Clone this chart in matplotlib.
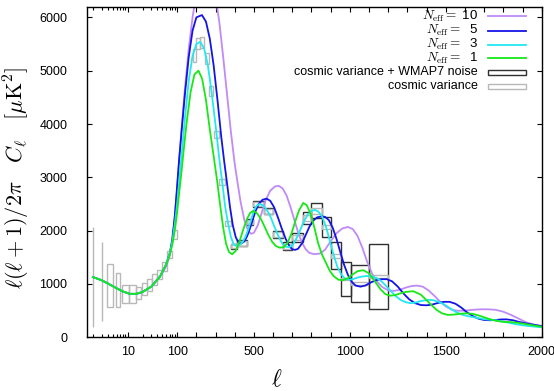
import numpy as np
import matplotlib
matplotlib.use("Agg")
import matplotlib.pyplot as plt
from matplotlib.patches import Rectangle
from matplotlib.lines import Line2D

plt.rcParams["font.family"] = ["Liberation Sans", "DejaVu Sans"]
plt.rcParams["mathtext.fontset"] = "cm"

# ---- model spectra, D_l = l(l+1)C_l/2pi in muK^2 ----
ell_n10 = [2, 3, 4, 6, 8, 11, 15, 20, 30, 45, 60, 71, 80, 90, 100, 110, 125, 140, 160, 180,
           200, 225, 250, 275, 300, 320, 340, 360, 380, 400, 413, 430, 450, 470, 485, 500, 520, 540, 560, 585,
           610, 630, 650, 670, 690, 710, 730, 750, 770, 790, 815, 844, 870, 900, 930, 960, 990, 1015, 1040, 1065,
           1090, 1115, 1140, 1170, 1200, 1230, 1260, 1290, 1320, 1350, 1380, 1410, 1440, 1470, 1500, 1530, 1560,
           1600, 1640, 1680, 1720, 1760, 1800, 1840, 1880, 1920, 1960, 2000]
cl_n10 = [1130, 1070, 1010, 920, 860, 815, 815, 850, 950, 1130, 1330, 1530, 1800, 2250, 2800, 3300, 4000, 4650, 5400, 6000,
          6450, 6800, 6900, 6750, 6400, 5900, 5250, 4550, 3850, 3250, 2940, 2550, 2200, 2000, 1940, 1960, 2100, 2330, 2560, 2750,
          2830, 2840, 2790, 2660, 2450, 2210, 1970, 1780, 1650, 1580, 1560, 1570, 1640, 1800, 1950, 2040, 2070, 2030, 1900, 1680,
          1420, 1200, 1050, 940, 880, 870, 890, 930, 960, 970, 950, 880, 780, 670, 580, 520, 497,
          500, 515, 525, 525, 515, 480, 420, 350, 280, 235, 200]

ell_n5 = [2, 3, 4, 6, 8, 11, 15, 20, 30, 45, 60, 71, 80, 90, 100, 110, 125, 140, 160, 180,
          200, 229, 250, 270, 290, 310, 330, 345, 358, 375, 390, 405, 420, 435, 450, 465, 480, 495, 510, 525,
          545, 566, 585, 605, 625, 645, 665, 685, 700, 715, 730, 750, 770, 790, 810, 830, 850, 870, 890, 910,
          930, 950, 970, 990, 1010, 1030, 1055, 1080, 1110, 1140, 1165, 1192, 1220, 1250, 1280, 1310, 1340, 1370, 1400, 1430,
          1460, 1490, 1520, 1550, 1580, 1610, 1640, 1670, 1700, 1730, 1760, 1790, 1817, 1850, 1880, 1920, 1960, 2000]
cl_n5 = [1130, 1070, 1010, 920, 860, 815, 815, 850, 950, 1140, 1370, 1580, 1850, 2300, 2850, 3330, 3950, 4550, 5250, 5750,
         6000, 6043, 5920, 5600, 5100, 4450, 3750, 3300, 2940, 2450, 2100, 1880, 1770, 1760, 1800, 1900, 2050, 2220, 2380, 2500,
         2580, 2600, 2560, 2440, 2250, 2040, 1850, 1710, 1650, 1640, 1660, 1760, 1920, 2080, 2190, 2250, 2265, 2260, 2200, 2060,
         1850, 1600, 1360, 1170, 1040, 970, 950, 970, 1030, 1075, 1090, 1090, 1050, 950, 820, 710, 640, 605, 600, 615,
         645, 665, 665, 630, 560, 470, 400, 350, 325, 320, 325, 335, 336, 320, 290, 260, 235, 211]

ell_n3 = [2, 3, 4, 6, 8, 11, 15, 20, 30, 45, 60, 71, 80, 90, 100, 110, 125, 140, 160, 180,
          200, 220, 240, 260, 280, 300, 320, 335, 350, 365, 380, 395, 410, 425, 440, 455, 470, 485, 500, 515,
          530, 545, 560, 575, 590, 605, 620, 635, 650, 665, 683, 700, 720, 740, 760, 780, 800, 818, 835, 855,
          875, 895, 915, 935, 955, 975, 995, 1015, 1040, 1065, 1090, 1115, 1140, 1165, 1190, 1215, 1240, 1265, 1290, 1315,
          1340, 1370, 1400, 1430, 1460, 1490, 1520, 1550, 1580, 1610, 1640, 1670, 1700, 1730, 1760, 1790, 1820, 1860, 1900, 1950,
          2000]
cl_n3 = [1130, 1070, 1010, 920, 860, 815, 815, 850, 950, 1140, 1370, 1575, 1800, 2140, 2500, 2900, 3500, 4100, 4800, 5280,
         5500, 5540, 5420, 5100, 4580, 3980, 3330, 2900, 2450, 2140, 1880, 1740, 1710, 1730, 1780, 1880, 2020, 2200, 2380, 2470,
         2500, 2480, 2420, 2340, 2230, 2090, 1960, 1840, 1750, 1700, 1690, 1720, 1840, 2000, 2170, 2300, 2370, 2390, 2360, 2270,
         2080, 1820, 1550, 1320, 1180, 1100, 1080, 1090, 1120, 1140, 1150, 1140, 1110, 1050, 960, 860, 770, 700, 660, 640,
         650, 680, 700, 700, 670, 620, 550, 480, 430, 400, 380, 360, 340, 330, 320, 300, 280, 250, 225, 205,
         187]

ell_n1 = [2, 3, 4, 6, 8, 11, 15, 20, 30, 45, 60, 71, 80, 90, 100, 110, 120, 135, 150, 170,
          190, 211, 230, 250, 270, 290, 308, 325, 340, 355, 370, 387, 405, 425, 445, 465, 480, 495, 515, 535,
          555, 575, 595, 615, 635, 655, 675, 695, 715, 735, 757, 775, 795, 815, 835, 855, 875, 895, 915, 940,
          965, 990, 1015, 1040, 1070, 1100, 1130, 1160, 1185, 1209, 1235, 1260, 1290, 1330, 1370, 1410, 1450, 1480, 1510, 1540,
          1570, 1605, 1640, 1680, 1720, 1760, 1800, 1840, 1880, 1930, 2000]
cl_n1 = [1130, 1070, 1010, 920, 860, 815, 815, 850, 950, 1140, 1370, 1550, 1740, 2020, 2350, 2700, 3020, 3550, 4050, 4600,
         4930, 5000, 4850, 4450, 3900, 3400, 2940, 2450, 2050, 1750, 1600, 1557, 1620, 1800, 2030, 2230, 2330, 2370, 2330, 2230,
         2080, 1920, 1790, 1710, 1680, 1690, 1770, 1940, 2170, 2380, 2520, 2480, 2320, 2060, 1760, 1550, 1400, 1250, 1150, 1080,
         1071, 1110, 1180, 1240, 1258, 1200, 1050, 900, 810, 780, 790, 820, 850, 865, 800, 660, 520, 450, 420, 425,
         440, 450, 440, 400, 350, 310, 290, 285, 270, 240, 198]

# ---- error boxes ----
# single multipoles at low l (drawn as vertical bars)
cv_line_ell = [2, 3]
cv_line_lo = [198, 310]
cv_line_hi = [2069, 1787]

# low-l bins: l range and D range (cosmic variance only)
low_bin_lo = [3.9, 5.9, 7.8, 10.7, 14.9, 19.7, 24.9, 31.4, 39.5, 50, 63, 79]
low_bin_hi = [5.0, 7.0, 10.7, 14.5, 18.8, 24.9, 31.4, 39.5, 50, 63, 79, 100]
low_box_lo = [572, 561, 636, 647, 710, 791, 871, 978, 1090, 1250, 1480, 1850]
low_box_hi = [1370, 1207, 978, 978, 935, 1009, 1084, 1183, 1260, 1410, 1620, 2010]

# linear-l bins: centre value, cosmic-variance and cv+WMAP7-noise half heights
bin_lo = [183, 198, 218, 243, 267, 291, 320, 348, 380, 410, 462, 496, 552, 600, 653, 700, 757, 800, 853, 900, 952, 1004, 1100]
bin_hi = [198, 218, 241, 266, 289, 320, 347, 380, 410, 462, 496, 552, 600, 653, 700, 757, 800, 853, 900, 952, 1004, 1100, 1200]
bin_mid = [5280, 5510, 5530, 5230, 4620, 3810, 2920, 2135, 1707, 1762, 2165, 2495, 2364, 1927, 1710, 1870, 2240, 2370, 2067, 1530, 1092, 1008, 1140]
cv_half = [120, 110, 100, 110, 95, 65, 55, 55, 37, 43, 35, 40, 46, 47, 47, 45, 50, 50, 45, 35, 25, 20, 20]
tot_half = [120, 110, 100, 110, 95, 65, 55, 55, 48, 55, 50, 55, 60, 65, 78, 84, 118, 140, 187, 258, 320, 343, 617]

labels = [r"$N_{\rm eff}=$ 10", r"$N_{\rm eff}=$  5", r"$N_{\rm eff}=$  3", r"$N_{\rm eff}=$  1"]
colors = ["#c08af8", "#1414e6", "#22e8f0", "#18e818"]

K = 0.1918 / 49.6  # linear part, in decades per unit of l


def fwd(x):
    x = np.asarray(x, dtype=float)
    lg = np.log10(np.clip(x, 1e-6, None))
    return np.where(x <= 100, lg, 2 + (x - 100) * K)


def inv(y):
    y = np.asarray(y, dtype=float)
    return np.where(y <= 2, 10 ** np.minimum(y, 2), 100 + (y - 2) / K)


fig = plt.figure(figsize=(5.54, 3.91), dpi=100)
ax = fig.add_axes([86.7 / 554, 1 - 337.3 / 391, 455 / 554, 330.6 / 391])
ax.set_xscale("function", functions=(fwd, inv))

gray = "#b8b8b8"
black = "#303030"

# boxes
ax.vlines(cv_line_ell, cv_line_lo, cv_line_hi, color=gray, lw=1.0)
for lo, hi, a, b in zip(low_bin_lo, low_bin_hi, low_box_lo, low_box_hi):
    ax.add_patch(Rectangle((lo, a), hi - lo, b - a, fill=False, ec=gray, lw=1.0))
for lo, hi, m, c, t in zip(bin_lo, bin_hi, bin_mid, cv_half, tot_half):
    if t > c:
        ax.add_patch(Rectangle((lo, m - t), hi - lo, 2 * t, fill=False, ec=black, lw=1.0))
    ax.add_patch(Rectangle((lo, m - c), hi - lo, 2 * c, fill=False, ec=gray, lw=1.0))

# spectra
for ell, cl, col in zip([ell_n10, ell_n5, ell_n3, ell_n1], [cl_n10, cl_n5, cl_n3, cl_n1], colors):
    ax.plot(ell, cl, color=col, lw=1.3, solid_joinstyle="round")

ax.set_xlim(1.5, 2000)
ax.set_ylim(0, 6200)

major = [10, 100] + list(range(200, 2001, 100))
ax.set_xticks(major)
ax.set_xticklabels([str(v) if v in (10, 100, 500, 1000, 1500, 2000) else "" for v in major])
ax.set_xticks(list(range(2, 10)) + list(range(20, 100, 10)), minor=True)
ax.set_yticks(range(0, 6001, 1000))
ax.tick_params(which="both", direction="in", top=True, right=True, labelsize=9, width=0.8)
ax.tick_params(which="major", length=3.6)
ax.tick_params(which="minor", length=2.0)
ax.tick_params(axis="x", pad=6)
ax.tick_params(axis="y", pad=14)
for s in ax.spines.values():
    s.set_linewidth(1.0)

fig.text(16.5 / 554, 1 - 177.5 / 391, r"$\ell(\ell+1)/2\pi\quad C_\ell\quad [\mu{\rm K}^2]$",
         rotation=90, ha="center", va="center", fontsize=16)
fig.text(277 / 554, 1 - 380 / 391, r"$\ell$", ha="center", va="center", fontsize=17)

# legend, gnuplot style: text right-aligned, sample on the right
rows = [16, 30.5, 44.5, 58, 72, 86]
x_txt, x0, x1 = 478 / 554, 488 / 554, 526 / 554
for r, lab, col in zip(rows, labels, colors):
    fig.text(x_txt, 1 - r / 391, lab, ha="right", va="center", fontsize=9.5)
    fig.add_artist(Line2D([x0, x1], [1 - r / 391] * 2, color=col, lw=1.3))
for r, lab, ec in zip(rows[4:], ["cosmic variance + WMAP7 noise", "cosmic variance"], [black, gray]):
    fig.text(x_txt, 1 - r / 391, lab, ha="right", va="center", fontsize=9)
    fig.add_artist(Rectangle((x0, 1 - (r + 2.5) / 391), x1 - x0, 5 / 391, fill=False, ec=ec, lw=1.0))

fig.savefig("out.png", dpi=100)
